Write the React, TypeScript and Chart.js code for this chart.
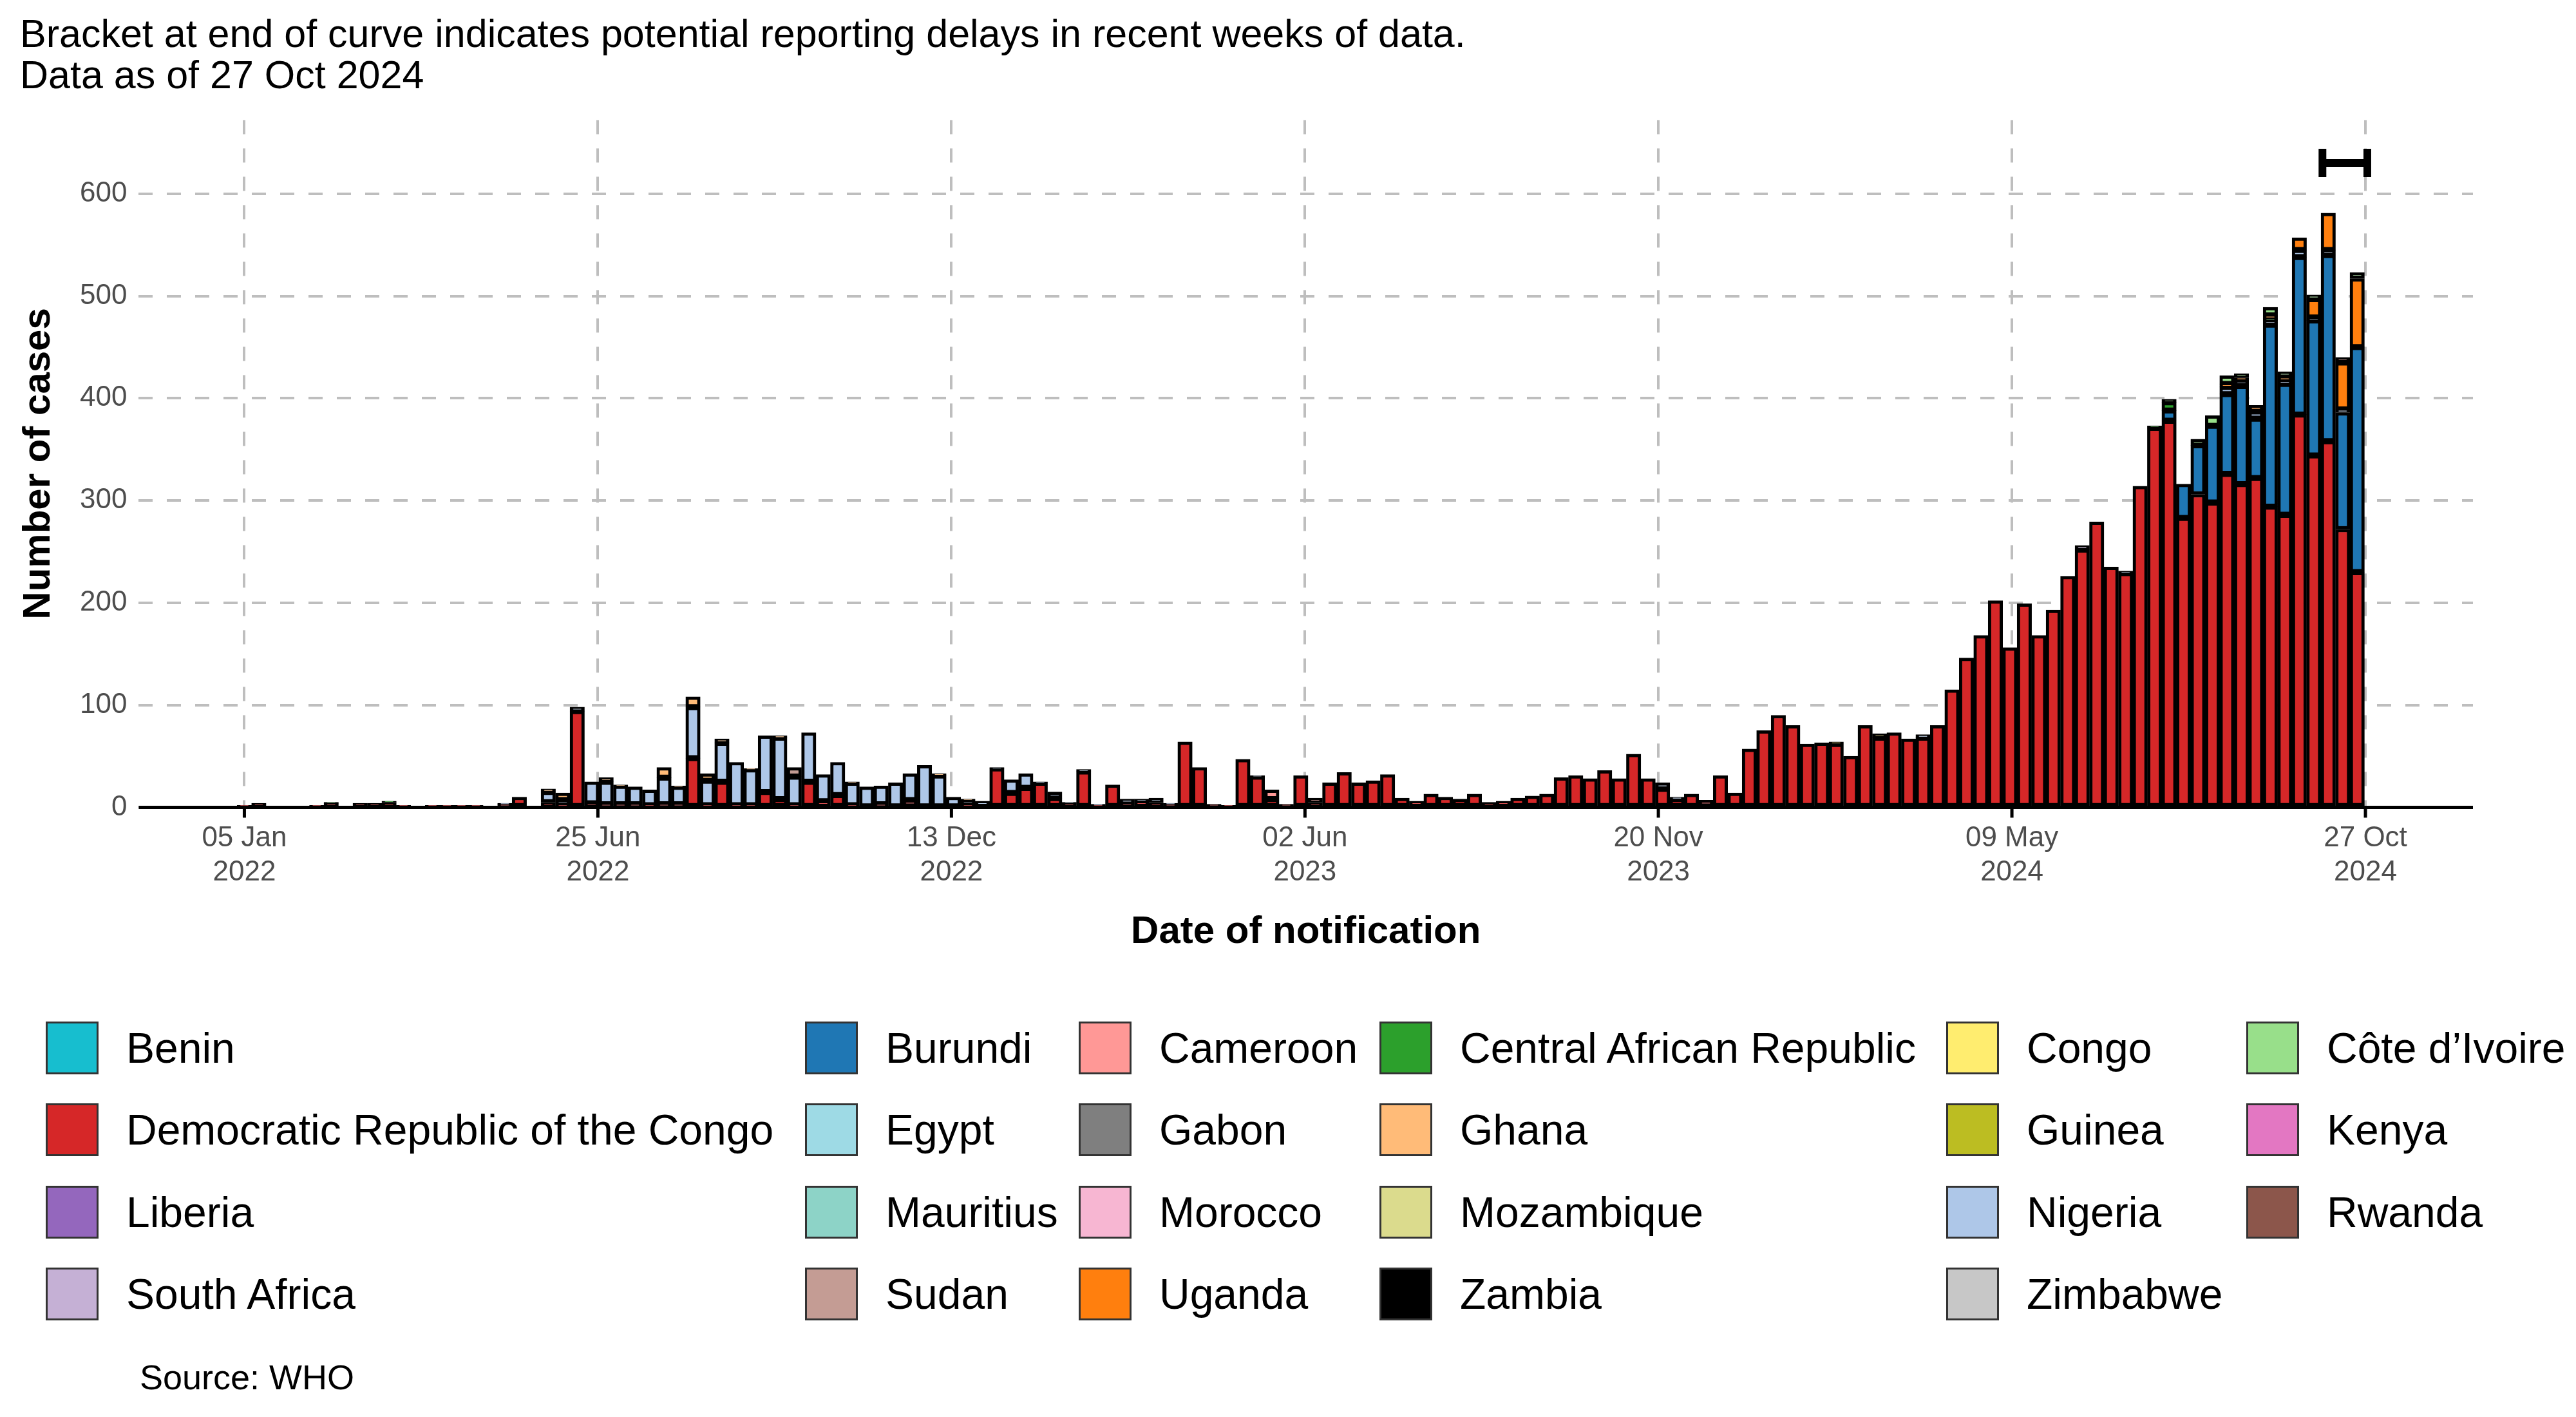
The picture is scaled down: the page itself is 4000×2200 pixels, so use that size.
import React, { useEffect, useRef } from "react";
import { Chart, registerables } from "chart.js";
Chart.register(...registerables);

const tickWeeks = [0, 24.43, 48.86, 73.29, 97.71, 122.14, 146.57];
const tickLabels = [["05 Jan", "2022"], ["25 Jun", "2022"], ["13 Dec", "2022"], ["02 Jun", "2023"], ["20 Nov", "2023"], ["09 May", "2024"], ["27 Oct", "2024"]];
const yTicks = [0, 100, 200, 300, 400, 500, 600];

const drcWeekly = [
  2,4,1,1,1,2,4,1,4,4,5,2,1,2,2,2,2,1,3,10,
  0,5,2,94,4,3,3,3,2,3,
  3,48,2,25,2,2,15,8,2,25,
  6,12,2,1,3,1,7,1,1,1,
  2,0,38,14,19,24,9,4,35,2,
  22,4,6,5,3,64,39,3,2,47,
  30,8,3,31,5,24,34,24,26,32,
  9,6,13,10,8,13,5,6,9,11,
  13,29,31,28,36,28,52,28,18,8,
  13,7,31,14,57,75,90,80,62,63,
  62,50,80,68,73,67,68,80,115,146,
  168,202,156,199,168,193,226,252,279,235,
  229,314,371,378,283,306,298,326,316,322,
  294,286,384,344,358,272,230,
];
const nigeriaWeeks: [number, number][] = [[18,1],[21,10],[22,5],[23,4],[24,21],[25,22],[26,18],[27,17],[28,15],[29,26],[30,17],[31,50],[32,24],[33,38],[34,42],[35,35],[36,55],[37,60],[38,28],[39,48],[40,26],[41,32],[42,22],[43,19],[44,18],[45,23],[46,26],[47,40],[48,30],[49,9],[50,5],[51,6],[52,1],[53,13],[54,14],[55,1],[56,6],[57,1],[58,2],[59,1],[61,4],[62,2],[63,4],[64,1],[70,1],[98,6],[99,2],[116,3],[130,2],[137,7],[138,6],[139,7],[140,4],[141,3],[142,7],[143,3],[144,5],[145,3]];
const ghanaWeeks: [number, number][] = [[21,3],[22,7],[25,4],[26,1],[29,10],[30,1],[31,10],[32,7],[33,4],[35,1],[37,2],[42,1],[48,2],[50,1]];
const sudanWeeks: [number, number][] = [[38,9]];
const cameroonWeeks: [number, number][] = [[71,9],[74,4]];
const congoWeeks: [number, number][] = [[110,2],[113,4]];
const southAfricaWeeks: [number, number][] = [[127,4]];
const carWeeks: [number, number][] = [[6,1],[10,1],[132,2],[133,8],[140,2]];
const burundiWeeks: [number, number][] = [[133,10],[134,33],[135,48],[136,75],[137,78],[138,96],[139,58],[140,178],[141,128],[142,154],[143,132],[144,182],[145,114],[146,220]];
const ugandaWeeks: [number, number][] = [[137,3],[138,2],[139,6],[140,3],[141,4],[142,12],[143,18],[144,36],[145,46],[146,67]];
const cdiWeeks: [number, number][] = [[133,3],[135,6],[136,10],[137,8],[138,4],[140,8],[141,5],[143,4],[146,6]];
const rwandaWeeks: [number, number][] = [[145,5]];

const legendItems: [string, string][] = [
  ["Benin", "#17BECF"], ["Burundi", "#1F77B4"], ["Cameroon", "#FF9896"], ["Central African Republic", "#2CA02C"], ["Congo", "#FFED6F"], ["Côte d’Ivoire", "#98DF8A"],
  ["Democratic Republic of the Congo", "#D62728"], ["Egypt", "#9EDAE5"], ["Gabon", "#7F7F7F"], ["Ghana", "#FFBB78"], ["Guinea", "#BCBD22"], ["Kenya", "#E377C2"],
  ["Liberia", "#9467BD"], ["Mauritius", "#8DD3C7"], ["Morocco", "#F7B6D2"], ["Mozambique", "#DBDB8D"], ["Nigeria", "#AEC7E8"], ["Rwanda", "#8C564B"],
  ["South Africa", "#C5B0D5"], ["Sudan", "#C49C94"], ["Uganda", "#FF7F0E"], ["Zambia", "#000000"], ["Zimbabwe", "#C7C7C7"],
];
const colX = [71, 1250, 1675, 2142, 3022, 3488];
const rowY = [1627, 1754, 1882, 2009];
const bracketWeeks = [143.6, 146.7];
const bracketY = 630;

const colorOf = (n: string) => legendItems.find((l) => l[0] === n)![1];
const fromSparse = (pairs: [number, number][]) => pairs.map(([x, y]) => ({ x, y }));

export default function App() {
  const ref = useRef<HTMLCanvasElement>(null);
  useEffect(() => {
    const series: [string, { x: number; y: number }[]][] = [
      ["Democratic Republic of the Congo", drcWeekly.map((y, x) => ({ x, y })).filter((p) => p.y > 0)],
      ["Burundi", fromSparse(burundiWeeks)],
      ["Nigeria", fromSparse(nigeriaWeeks)],
      ["Sudan", fromSparse(sudanWeeks)],
      ["Ghana", fromSparse(ghanaWeeks)],
      ["Cameroon", fromSparse(cameroonWeeks)],
      ["Congo", fromSparse(congoWeeks)],
      ["South Africa", fromSparse(southAfricaWeeks)],
      ["Central African Republic", fromSparse(carWeeks)],
      ["Uganda", fromSparse(ugandaWeeks)],
      ["Côte d’Ivoire", fromSparse(cdiWeeks)],
      ["Rwanda", fromSparse(rwandaWeeks)],
    ];
    const extras = {
      id: "extras",
      afterDatasetsDraw(c: any) {
        const { ctx, scales, chartArea } = c;
        const y0 = scales.y.getPixelForValue(0);
        ctx.save();
        ctx.strokeStyle = "#000";
        ctx.lineWidth = 5;
        ctx.beginPath();
        ctx.moveTo(chartArea.left, y0); ctx.lineTo(chartArea.right, y0);
        tickWeeks.forEach((w) => {
          const x = scales.x.getPixelForValue(w);
          ctx.moveTo(x, y0); ctx.lineTo(x, y0 + 16);
        });
        ctx.stroke();
        const x1 = scales.x.getPixelForValue(bracketWeeks[0]);
        const x2 = scales.x.getPixelForValue(bracketWeeks[1]);
        const y = scales.y.getPixelForValue(bracketY);
        ctx.lineWidth = 12;
        ctx.beginPath();
        ctx.moveTo(x1, y); ctx.lineTo(x2, y);
        ctx.moveTo(x1, y - 22); ctx.lineTo(x1, y + 22);
        ctx.moveTo(x2, y - 22); ctx.lineTo(x2, y + 22);
        ctx.stroke();
        ctx.restore();
      },
    };
    const chart = new Chart(ref.current!, {
      type: "bar",
      data: {
        datasets: series.map(([name, data]) => ({
          label: name,
          data,
          backgroundColor: colorOf(name),
          borderColor: "#000",
          borderWidth: 5,
          borderSkipped: false,
          barPercentage: 1,
          categoryPercentage: 1,
        })) as any,
      },
      plugins: [extras],
      options: {
        animation: false,
        responsive: false,
        devicePixelRatio: 1,
        layout: { padding: { top: 20, right: 40, left: 20 } },
        plugins: { legend: { display: false }, tooltip: { enabled: false } },
        scales: {
          x: {
            type: "linear",
            stacked: true,
            offset: false,
            min: -7.3,
            max: 154,
            afterBuildTicks: (ax: any) => { ax.ticks = tickWeeks.map((value) => ({ value })); },
            ticks: {
              autoSkip: false,
              maxRotation: 0,
              padding: 22,
              color: "#4D4D4D",
              font: { family: "Liberation Sans", size: 44 },
              callback: (v: any) => { const i = tickWeeks.indexOf(v); return i >= 0 ? tickLabels[i] : ""; },
            },
            grid: { color: "#BEBEBE", lineWidth: 4, drawTicks: false, offset: false },
            border: { display: false, dash: [22, 22] },
            title: { display: true, text: "Date of notification", color: "#000", font: { family: "Liberation Sans", size: 60, weight: "bold" }, padding: { top: 8 } },
          },
          y: {
            stacked: true,
            min: 0,
            max: 672,
            afterBuildTicks: (ax: any) => { ax.ticks = yTicks.map((value) => ({ value })); },
            ticks: { color: "#4D4D4D", font: { family: "Liberation Sans", size: 44 }, padding: 18 },
            grid: { color: "#BEBEBE", lineWidth: 4, drawTicks: false },
            border: { display: false, dash: [22, 22] },
            title: { display: true, text: "Number of cases", color: "#000", font: { family: "Liberation Sans", size: 60, weight: "bold" }, padding: { bottom: 10 } },
          },
        },
      } as any,
    });
    return () => chart.destroy();
  }, []);

  const font = "'Liberation Sans', Arial, sans-serif";
  return (
    <div style={{ position: "absolute", left: 0, top: 0, width: 4000, height: 2200, background: "#fff", fontFamily: font }}>
      <div style={{ position: "absolute", left: 31, top: 20, fontSize: 61, lineHeight: "64px", color: "#000" }}>
        <div>Bracket at end of curve indicates potential reporting delays in recent weeks of data.</div>
        <div>Data as of 27 Oct 2024</div>
      </div>
      <canvas ref={ref} width={3880} height={1345} style={{ position: "absolute", left: 0, top: 142, width: 3880, height: 1345 }} />
      {legendItems.map(([name, color], i) => {
        const c = i % 6, r = Math.floor(i / 6);
        return (
          <div key={name} style={{ position: "absolute", left: colX[c], top: rowY[r] - 42, height: 84, display: "flex", alignItems: "center" }}>
            <div style={{ width: 82, height: 82, background: color, border: "3px solid #333", boxSizing: "border-box" }} />
            <div style={{ marginLeft: 43, fontSize: 66, color: "#000", whiteSpace: "nowrap" }}>{name}</div>
          </div>
        );
      })}
      <div style={{ position: "absolute", left: 217, top: 2107, fontSize: 54, color: "#000" }}>Source: WHO</div>
    </div>
  );
}
